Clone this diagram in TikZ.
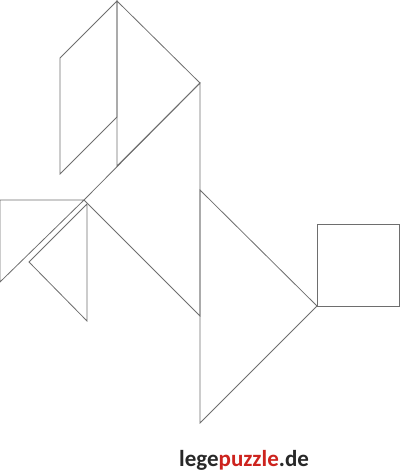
\documentclass[tikz,border=0pt]{standalone}
\usepackage{fontspec}
\setmainfont{Carlito}
\usepackage{tikz}
\usetikzlibrary{positioning, calc}
\definecolor{pieceLine}{RGB}{110, 110, 110}
\definecolor{logoDark}{RGB}{40, 40, 40}
\definecolor{logoRed}{RGB}{205, 35, 30}
\tikzstyle{piece} = [draw=pieceLine, line width=0.8pt, line join=miter]
\tikzstyle{logo} = [font=\fontsize{23}{25}\selectfont\bfseries, text=logoDark, inner sep=0pt]

\begin{document}
\begin{tikzpicture}[x=1pt, y=-1pt]

\useasboundingbox (0,0) rectangle (400,472);

% head
\draw [piece] (60,58) -- (117,1) -- (117,117) -- (60,174) -- cycle;
\draw [piece] (117,1) -- (200,83) -- (117,166) -- cycle;

% body
\draw [piece] (200,83) -- (200,316) -- (84,200) -- cycle;
\draw [piece] (0,200) -- (84,200) -- (0,282) -- cycle;
\draw [piece] (87,204) -- (87,321) -- (29,262) -- cycle;

% tail
\draw [piece] (200,190) -- (317,306) -- (200,423) -- cycle;
\draw [piece] (317,224) rectangle (399,306);

\node (logo) [logo, anchor=base west] at (179,466) {lege\textcolor{logoRed}{puzzle}.de};

\end{tikzpicture}
\end{document}
